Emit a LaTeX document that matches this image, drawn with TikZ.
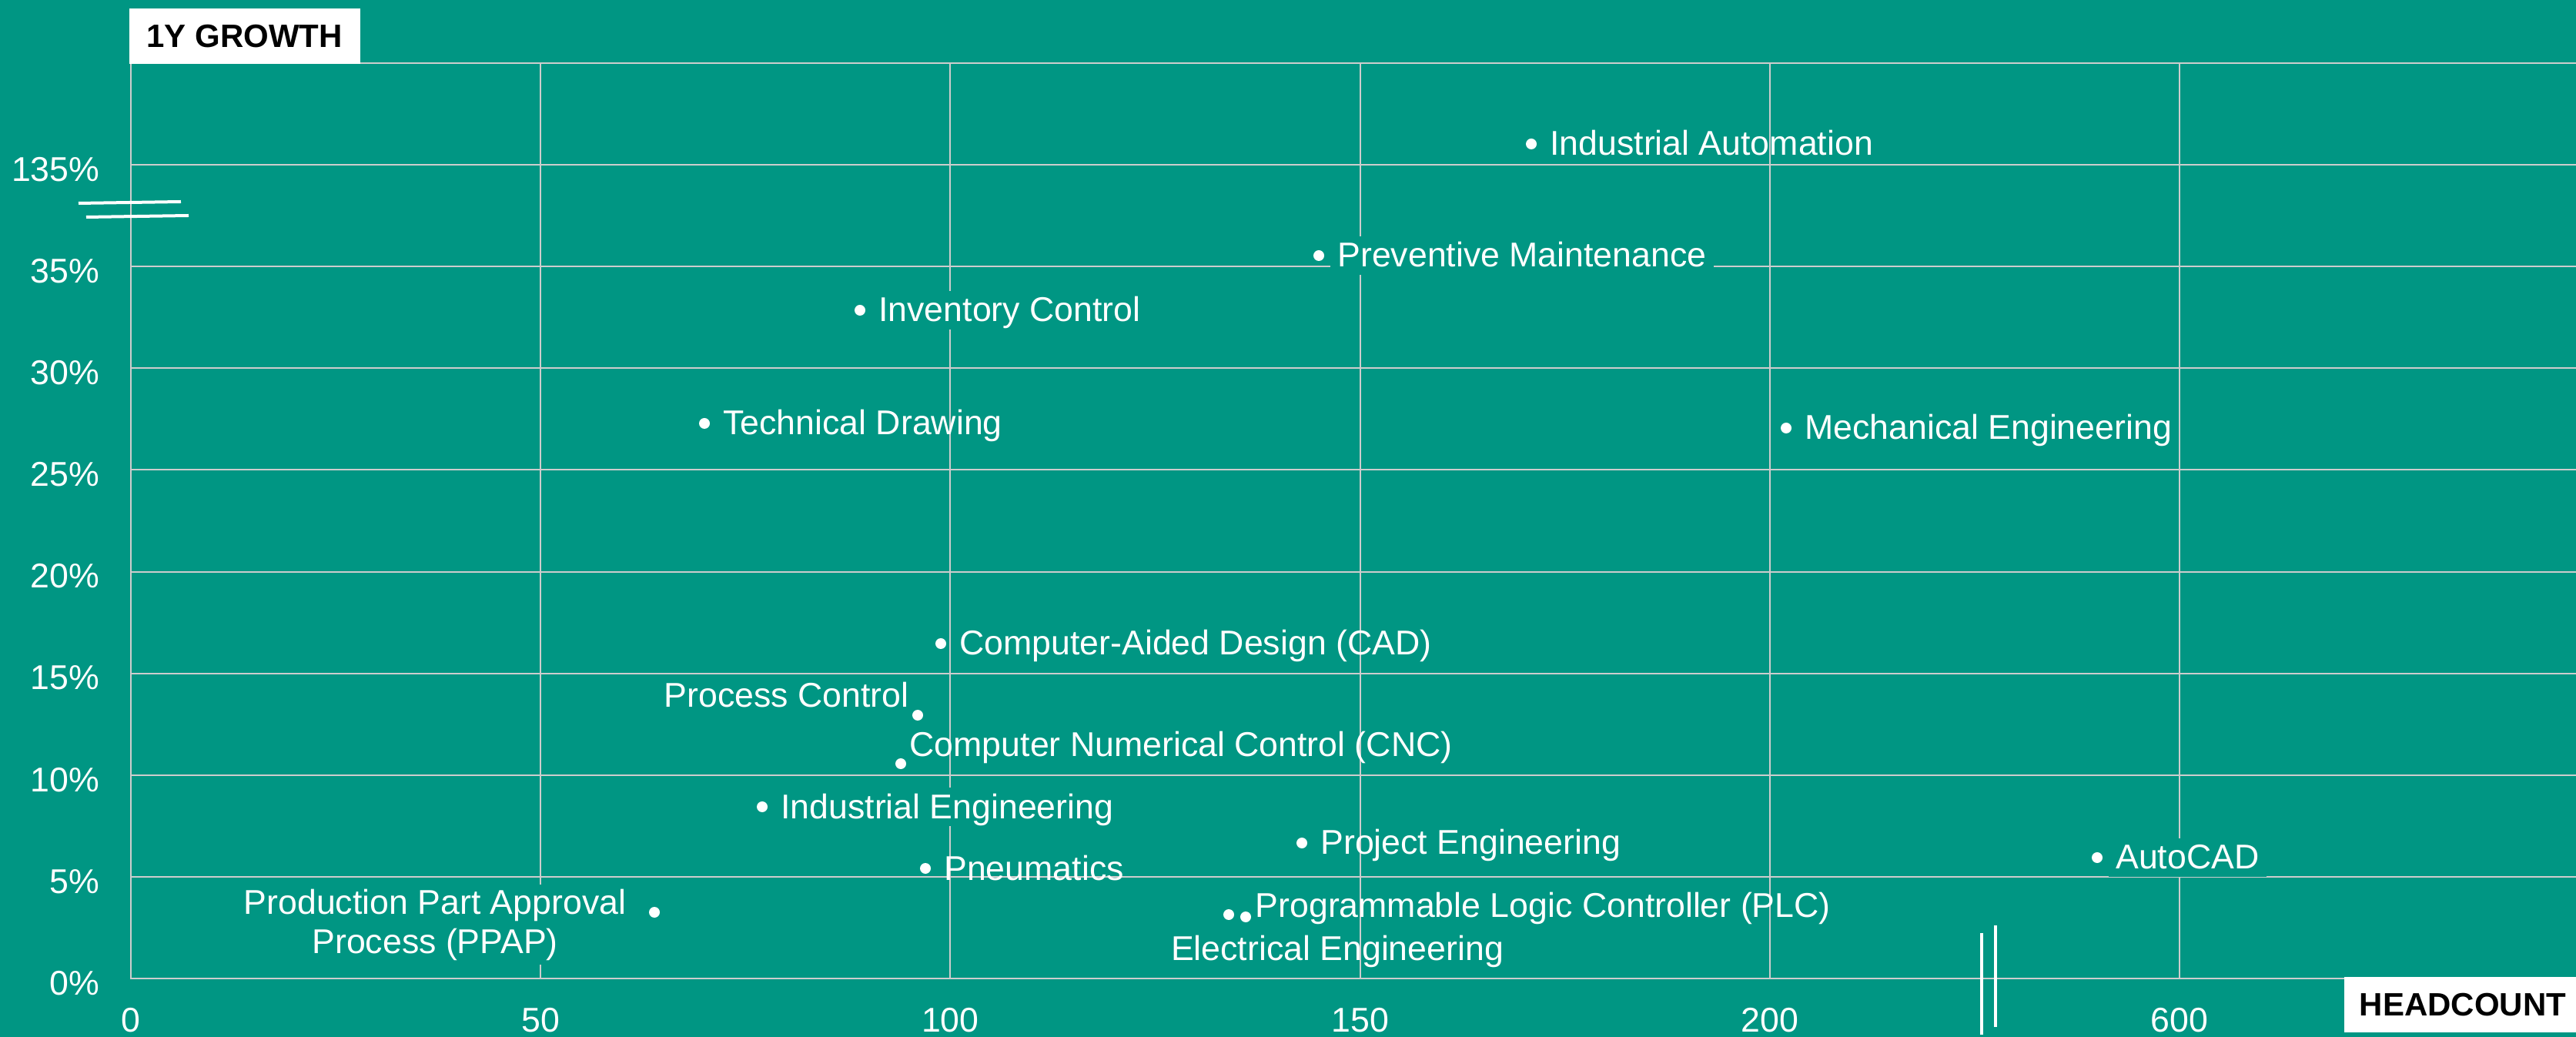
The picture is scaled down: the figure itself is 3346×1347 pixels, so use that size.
\documentclass[tikz,border=0pt]{standalone}
\usepackage{fontspec}
\setmainfont{Liberation Sans}
\usetikzlibrary{positioning,calc}
\definecolor{chartteal}{RGB}{0,150,131}
\definecolor{gridgrey}{RGB}{205,205,205}

\begin{document}
\begin{tikzpicture}[x=0.3pt,y=-0.3pt,
    font=\fontsize{13.4}{15.3}\selectfont,
    gridline/.style={draw=gridgrey,line width=0.6pt},
    axisline/.style={draw=gridgrey,line width=0.8pt},
    brk/.style={draw=white,line width=1.2pt},
    skilldot/.style={circle,fill=white,inner sep=0pt,minimum size=4.2pt},
    lblbase/.style={text=white,inner xsep=2.7pt},
    lbl/.style={lblbase,inner ysep=1.9pt,text height=1.0em,text depth=0.1em},
    lblmask/.style={lbl,fill=chartteal},
    ticklbl/.style={text=white,inner sep=0pt},
    axname/.style={fill=white,text=black,font=\fontsize{12.6}{15}\selectfont\bfseries,
      inner xsep=6pt,minimum height=21.6pt}]
 \fill[chartteal] (0,0) rectangle (3346,1347);
 \useasboundingbox (0,0) rectangle (3346,1347);
 \foreach \k in {1,...,9} {\draw[gridline] (170,{1271-132.1*\k}) -- (3346,{1271-132.1*\k});}
 \foreach \k in {1,...,5} {\draw[gridline] ({170+532.2*\k},82) -- ({170+532.2*\k},1271);}
 \draw[axisline] (170,82) -- (170,1271) -- (3346,1271);
 \foreach \v [count=\k from 0] in {0,50,100,150,200,600}
  {\node[ticklbl] (x\k) at ({170+532.2*\k},1325) {\v};}
 \foreach \v [count=\k from 0] in {0,5,10,15,20,25,30,35,135}
  {\node[ticklbl,anchor=east] (y\k) at (130,{1277-132.1*\k}) {\v\%};}

 \node[skilldot] (ia) at (1989,187) {};
 \node[skilldot] (pm) at (1713,332) {};
 \node[skilldot] (ic) at (1117,403) {};
 \node[skilldot] (td) at (915,550) {};
 \node[skilldot] (me) at (2320,556) {};
 \node[skilldot] (cad) at (1222,836) {};
 \node[skilldot] (pc) at (1192,929) {};
 \node[skilldot] (cnc) at (1170,992) {};
 \node[skilldot] (ie) at (990,1048) {};
 \node[skilldot] (pn) at (1202,1128) {};
 \node[skilldot] (pe) at (1691,1095) {};
 \node[skilldot] (acad) at (2724,1114) {};
 \node[skilldot] (ppap) at (850,1185) {};
 \node[skilldot] (ee) at (1596,1188) {};
 \node[skilldot] (plc) at (1618,1191) {};

 \node[lbl,right=2.1pt of ia] (ialbl) {Industrial Automation};
 \node[lblmask,right=2.1pt of pm] (pmlbl) {Preventive Maintenance};
 \node[lblmask,right=2.1pt of ic] (iclbl) {Inventory Control};
 \node[lbl,right=2.1pt of td] (tdlbl) {Technical Drawing};
 \node[lbl,right=2.1pt of me] (melbl) {Mechanical Engineering};
 \node[lbl,right=2.1pt of cad] (cadlbl) {Computer-Aided Design (CAD)};
 \node[lbl,anchor=east] (pclbl) at ($(pc)+(-2,-25)$) {Process Control};
 \node[lbl,anchor=west] (cnclbl) at ($(cnc)+(2,-24)$) {Computer Numerical Control (CNC)};
 \node[lblmask,right=2.1pt of ie] (ielbl) {Industrial Engineering};
 \node[lbl,right=2.1pt of pn] (pnlbl) {Pneumatics};
 \node[lbl,right=2.1pt of pe] (pelbl) {Project Engineering};
 \node[lblmask,right=2.1pt of acad] (acadlbl) {AutoCAD};
 \node[lblbase,fill=chartteal,inner ysep=1.8pt,align=center,anchor=east] (ppaplbl)
  at ($(ppap)+(-27,16)$) {Production Part Approval\\Process (PPAP)};
 \node[lbl] (eelbl) at ($(ee)+(141,44)$) {Electrical Engineering};
 \node[lbl,anchor=west] (plclbl) at ($(plc)+(3,-15)$) {Programmable Logic Controller (PLC)};

 \draw[brk] (102,264) -- (235,262);
 \draw[brk] (112,282) -- (245,280);
 \draw[brk] (2574,1212) -- (2574,1344);
 \draw[brk] (2592,1202) -- (2592,1334);

 \node[axname,anchor=north west,minimum width=90pt] (growth) at (167,10) {1Y GROWTH};
 \node[axname,anchor=north west] (headcount) at (3044,1268) {HEADCOUNT};
\end{tikzpicture}
\end{document}
